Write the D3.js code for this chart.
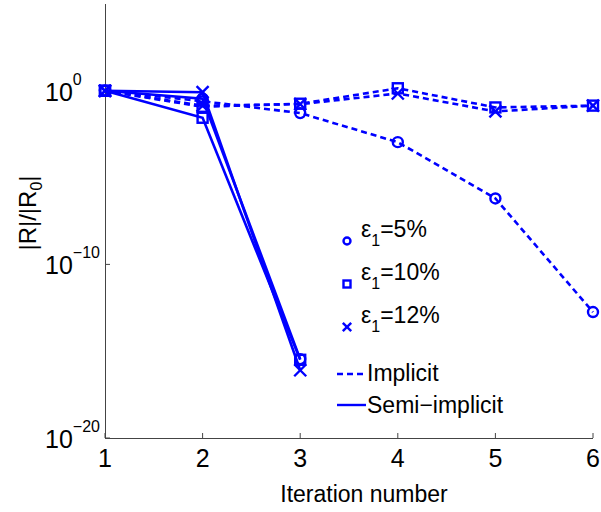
<!DOCTYPE html>
<html><head><meta charset="utf-8">
<script src="https://cdn.jsdelivr.net/npm/d3@7"></script>
<style>body{margin:0;background:#fff}svg{display:block;font-family:"Liberation Sans",Arial,sans-serif}</style>
</head><body>
<svg id="c" width="601" height="512"></svg>
<script>
const iterations = [1, 2, 3, 4, 5, 6];
const semiIterations = [1, 2, 3];
const implicit5  = [1, 0.25, 0.052, 1.1e-3, 6.3e-7, 1.8e-13];
const implicit10 = [1, 0.12, 0.18, 1.4, 0.11, 0.14];
const implicit12 = [1, 0.14, 0.17, 0.7, 0.065, 0.14];
const semi5  = [1, 0.35, 3.5e-16];
const semi10 = [1, 0.028, 3.2e-16];
const semi12 = [1, 0.83, 8e-17];
const yTickExps = [0, -10, -20];
const legendEps = ["5%", "10%", "12%"];

const svg = d3.select("#c");
const blue = "#0000ff";
const x = d3.scaleLinear().domain([1, 6]).range([105, 593]);
const y = d3.scaleLog().domain([1e-20, 1e5]).range([438, 4]);

// axes
const axisColor = "#444";
svg.append("line").attr("x1", 105.5).attr("x2", 105.5).attr("y1", y(1e5)).attr("y2", y(1e-20)).attr("stroke", axisColor).attr("stroke-width", 1);
svg.append("line").attr("x1", x(1)).attr("x2", x(6)).attr("y1", 438.5).attr("y2", 438.5).attr("stroke", axisColor).attr("stroke-width", 1);
iterations.forEach(t => {
  svg.append("line").attr("x1", x(t)).attr("x2", x(t)).attr("y1", 438).attr("y2", 433).attr("stroke", axisColor);
  svg.append("text").attr("x", x(t)).attr("y", 467).attr("text-anchor", "middle").attr("font-size", 25).attr("fill", "#000").text(t);
});
yTickExps.forEach(e => {
  const yy = y(Math.pow(10, e));
  svg.append("line").attr("x1", 105).attr("x2", 110).attr("y1", yy).attr("y2", yy).attr("stroke", axisColor);
  const t = svg.append("text").attr("x", 45).attr("y", yy + 10).attr("font-size", 25).attr("fill", "#000");
  t.append("tspan").text("10");
  t.append("tspan").attr("font-size", 16).attr("dy", -16).text(e === 0 ? "0" : "\u2212" + (-e));
});
svg.append("text").attr("x", 364).attr("y", 502).attr("text-anchor", "middle").attr("font-size", 23).attr("fill", "#000").text("Iteration number");
const yl = svg.append("text").attr("transform", "translate(36,213) rotate(-90)").attr("text-anchor", "middle").attr("font-size", 24).attr("fill", "#000");
yl.append("tspan").text("|R|/|R");
yl.append("tspan").attr("font-size", 16).attr("dy", 6).text("0");
yl.append("tspan").attr("dy", -6).text("|");

const line = d3.line().x(d => x(d[0])).y(d => y(d[1]));

function drawSeries(xs, vals, dashed, marker) {
  const pts = xs.map((t, i) => [t, vals[i]]);
  svg.append("path").attr("d", line(pts)).attr("fill", "none").attr("stroke", blue)
    .attr("stroke-width", 2.6).attr("stroke-dasharray", dashed ? "6,4" : null);
  pts.forEach(p => drawMarker(x(p[0]), y(p[1]), marker, 1));
}
function drawMarker(cx, cy, marker, s) {
  const g = svg.append("g").attr("fill", "none").attr("stroke", blue).attr("stroke-width", 2.4);
  if (marker === "o") g.append("circle").attr("cx", cx).attr("cy", cy).attr("r", 5 * s);
  else if (marker === "s") g.append("rect").attr("x", cx - 5 * s).attr("y", cy - 5 * s).attr("width", 10 * s).attr("height", 10 * s);
  else {
    const r = 6 * s;
    g.append("line").attr("x1", cx - r).attr("y1", cy - r).attr("x2", cx + r).attr("y2", cy + r);
    g.append("line").attr("x1", cx - r).attr("y1", cy + r).attr("x2", cx + r).attr("y2", cy - r);
  }
}

drawSeries(iterations, implicit5, true, "o");
drawSeries(iterations, implicit10, true, "s");
drawSeries(iterations, implicit12, true, "x");
drawSeries(semiIterations, semi5, false, "o");
drawSeries(semiIterations, semi10, false, "s");
drawSeries(semiIterations, semi12, false, "x");

// legend
const markers = ["o", "s", "x"];
const rowsY = [241, 284, 327];
legendEps.forEach((lab, i) => {
  drawMarker(347, rowsY[i], markers[i], 0.7);
  const t = svg.append("text").attr("x", 361).attr("y", rowsY[i] - 4).attr("font-size", 23).attr("fill", "#000");
  t.append("tspan").text("\u03b5");
  t.append("tspan").attr("font-size", 16).attr("dy", 9).text("1");
  t.append("tspan").attr("dy", -9).text("=" + lab);
});
svg.append("line").attr("x1", 337).attr("x2", 366).attr("y1", 374).attr("y2", 374).attr("stroke", blue).attr("stroke-width", 2.4).attr("stroke-dasharray", "6,4");
svg.append("text").attr("x", 367).attr("y", 381).attr("font-size", 23).attr("fill", "#000").text("Implicit");
svg.append("line").attr("x1", 337).attr("x2", 366).attr("y1", 405).attr("y2", 405).attr("stroke", blue).attr("stroke-width", 2.4);
svg.append("text").attr("x", 367).attr("y", 413).attr("font-size", 23).attr("fill", "#000").text("Semi\u2212implicit");
</script>
</body></html>
